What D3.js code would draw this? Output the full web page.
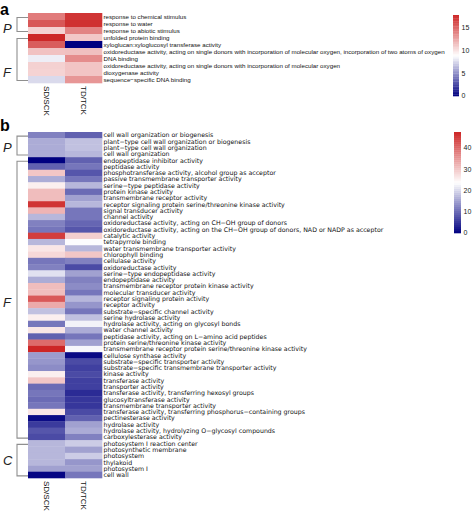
<!DOCTYPE html>
<html><head><meta charset="utf-8">
<script src="https://cdn.jsdelivr.net/npm/d3@7"></script>
<style>body{margin:0;background:#fff} svg{display:block;font-family:"Liberation Sans",Arial,Helvetica,sans-serif}</style>
</head><body>
<svg id="c" width="472" height="511"></svg>
<script>
// ---------- data ----------
const columns = ["SD/SCK", "TD/TCK"];

const termsA = [
  "response to chemical stimulus",
  "response to water",
  "response to abiotic stimulus",
  "unfolded protein binding",
  "xyloglucan:xyloglucosyl transferase activity",
  "oxidoreductase activity, acting on single donors with incorporation of molecular oxygen, incorporation of two atoms of oxygen",
  "DNA binding",
  "oxidoreductase activity, acting on single donors with incorporation of molecular oxygen",
  "dioxygenase activity",
  "sequence\u2212specific DNA binding"
];
const sdA = [14.3, 15.8, 10.8, 17.8, 15.6, 11.4, 8.3, 10.8, 10.7, 7.6];
const tdA = [17.2, 17.4, 14.0, 11.2, 0.0, 11.5, 13.6, 11.3, 11.3, 13.2];
const groupNamesA = ["P", "F"];
const groupStartA = [0, 3];
const groupEndA = [2, 9];
const legendTicksA = [0, 5, 10, 15];

const termsB = [
  "cell wall organization or biogenesis",
  "plant\u2212type cell wall organization or biogenesis",
  "plant\u2212type cell wall organization",
  "cell wall organization",
  "endopeptidase inhibitor activity",
  "peptidase activity",
  "phosphotransferase activity, alcohol group as acceptor",
  "passive transmembrane transporter activity",
  "serine\u2212type peptidase activity",
  "protein kinase activity",
  "transmembrane receptor activity",
  "receptor signaling protein serine/threonine kinase activity",
  "signal transducer activity",
  "channel activity",
  "oxidoreductase activity, acting on CH\u2212OH group of donors",
  "oxidoreductase activity, acting on the CH\u2212OH group of donors, NAD or NADP as acceptor",
  "catalytic activity",
  "tetrapyrrole binding",
  "water transmembrane transporter activity",
  "chlorophyll binding",
  "cellulase activity",
  "oxidoreductase activity",
  "serine\u2212type endopeptidase activity",
  "endopeptidase activity",
  "transmembrane receptor protein kinase activity",
  "molecular transducer activity",
  "receptor signaling protein activity",
  "receptor activity",
  "substrate\u2212specific channel activity",
  "serine hydrolase activity",
  "hydrolase activity, acting on glycosyl bonds",
  "water channel activity",
  "peptidase activity, acting on L\u2212amino acid peptides",
  "protein serine/threonine kinase activity",
  "transmembrane receptor protein serine/threonine kinase activity",
  "cellulose synthase activity",
  "substrate\u2212specific transporter activity",
  "substrate\u2212specific transmembrane transporter activity",
  "kinase activity",
  "transferase activity",
  "transporter activity",
  "transferase activity, transferring hexosyl groups",
  "glucosyltransferase activity",
  "transmembrane transporter activity",
  "transferase activity, transferring phosphorus\u2212containing groups",
  "pectinesterase activity",
  "hydrolase activity",
  "hydrolase activity, hydrolyzing O\u2212glycosyl compounds",
  "carboxylesterase activity",
  "photosystem I reaction center",
  "photosynthetic membrane",
  "photosystem",
  "thylakoid",
  "photosystem I",
  "cell wall"
];
const sdB = [
  12, 16, 16, 16,
  0, 9, 30, 16, 25.5, 31, 31, 46, 32, 17, 12,
  11, 45, 17, 26.5, 28, 11, 12, 21, 16, 31,
  31, 42, 33, 18, 25.5, 11, 26.5, 9, 40, 47.5,
  14.5, 14, 13, 25.5, 30, 10, 11, 10, 11, 26.5,
  1, 5.5, 8, 7,
  17, 17, 17, 17, 15, 0.5
];
const tdB = [
  9, 18, 18, 17,
  9, 11, 8, 11, 17, 10, 15, 17, 11, 11, 9.5,
  8, 29, 23.5, 17, 30, 12, 7, 15, 12, 13,
  11, 17, 14, 11, 18, 22.5, 16, 11, 15, 23,
  1, 7, 6, 7, 6, 6, 4, 5, 5, 7,
  9, 15, 16, 12,
  19, 15, 19, 14, 15, 11
];
const groupNamesB = ["P", "F", "C"];
const groupStartB = [0, 4, 49];
const groupEndB = [3, 48, 54];
const legendTicksB = [0, 10, 20, 30, 40];

// ---------- drawing ----------
const svg = d3.select("#c");

function panel(cfg) {
  const g = svg.append("g");
  const x = d3.scaleBand().domain(columns).range([28, 102]);
  const y = d3.scaleBand().domain(cfg.terms).range([cfg.top, cfg.bottom]);
  const all = cfg.sd.concat(cfg.td);
  const ext = d3.extent(all);
  const color = d3.scaleLinear()
    .domain([ext[0], (ext[0] + ext[1]) / 2, ext[1]])
    .range(["#000080", "#ffffff", "#CD2626"])
    .interpolate(d3.interpolateRgb);

  const cells = [];
  cfg.terms.forEach((t, i) => {
    cells.push({col: columns[0], term: t, v: cfg.sd[i]});
    cells.push({col: columns[1], term: t, v: cfg.td[i]});
  });
  g.selectAll("rect.cell").data(cells).join("rect")
    .attr("x", d => x(d.col))
    .attr("y", d => y(d.term))
    .attr("width", x.bandwidth() + 0.3)
    .attr("height", y.bandwidth() + 0.3)
    .attr("fill", d => color(d.v));

  // row labels
  g.selectAll("text.row").data(cfg.terms).join("text")
    .attr("x", 103.5)
    .attr("y", d => y(d) + y.bandwidth() / 2)
    .attr("dy", "0.36em")
    .attr("font-size", cfg.rowFont)
    .attr("font-family", cfg.rowFamily)
    .attr("fill", "#111")
    .text(d => d);

  // column labels (rotated)
  g.selectAll("text.col").data(columns).join("text")
    .attr("transform", d => `translate(${x(d) + x.bandwidth() / 2},${cfg.bottom + 3}) rotate(90)`)
    .attr("dy", "0.35em")
    .attr("font-size", cfg.colFont)
    .attr("fill", "#111")
    .text(d => d);

  // group brackets
  cfg.groups.forEach((name, k) => {
    const y0 = y(cfg.terms[cfg.gStart[k]]) + y.bandwidth() / 2 + 1;
    const y1 = y(cfg.terms[cfg.gEnd[k]]) + y.bandwidth() / 2 + 1;
    g.append("path")
      .attr("d", `M28,${y0}H17V${y1}H28`)
      .attr("fill", "none")
      .attr("stroke", "#8f8f8f")
      .attr("stroke-width", 1.1);
    g.append("text")
      .attr("x", 3)
      .attr("y", (y0 + y1) / 2 + cfg.gOffset[k])
      .attr("dy", "0.35em")
      .attr("font-size", 13)
      .attr("font-style", "italic")
      .attr("fill", "#222")
      .text(name);
  });

  // panel letter
  g.append("text")
    .attr("x", 0).attr("y", cfg.letterY)
    .attr("font-size", 16).attr("font-weight", "bold")
    .text(cfg.letter);

  // legend
  const ly = d3.scaleLinear().domain(ext).range([cfg.legBottom, cfg.legTop]);
  const steps = d3.range(50).map(i => ext[0] + (ext[1] - ext[0]) * i / 50);
  const step = (ext[1] - ext[0]) / 50;
  g.selectAll("rect.leg").data(steps).join("rect")
    .attr("x", cfg.legX)
    .attr("y", d => ly(d + step))
    .attr("width", cfg.legW)
    .attr("height", d => ly(d) - ly(d + step) + 0.3)
    .attr("fill", d => color(d + step / 2));
  g.selectAll("text.legt").data(cfg.legTicks).join("text")
    .attr("x", cfg.legX + cfg.legW + 2.5)
    .attr("y", d => ly(d))
    .attr("dy", "0.35em")
    .attr("font-size", 7)
    .attr("fill", "#222")
    .text(d => d);
}

panel({
  terms: termsA, sd: sdA, td: tdA, top: 13, bottom: 83,
  rowFont: 6.2, rowFamily: "Liberation Sans, Arial, sans-serif", colFont: 8,
  groups: groupNamesA, gStart: groupStartA, gEnd: groupEndA, gOffset: [3.5, 13],
  letter: "a", letterY: 14.5,
  legX: 453, legW: 6, legTop: 15, legBottom: 96, legTicks: legendTicksA
});

panel({
  terms: termsB, sd: sdB, td: tdB, top: 132, bottom: 478,
  rowFont: 6.25, rowFamily: "DejaVu Sans, sans-serif", colFont: 8,
  groups: groupNamesB, gStart: groupStartB, gEnd: groupEndB, gOffset: [2, 3, 0],
  letter: "b", letterY: 131,
  legX: 454, legW: 7, legTop: 132, legBottom: 233, legTicks: legendTicksB
});
</script>
</body></html>
